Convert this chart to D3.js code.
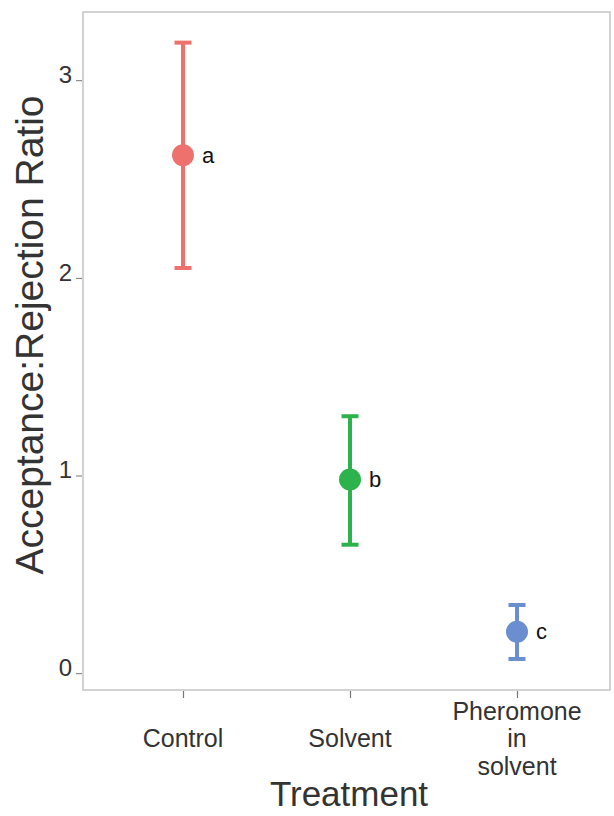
<!DOCTYPE html>
<html>
<head>
<meta charset="utf-8">
<script src="https://cdn.jsdelivr.net/npm/d3@7"></script>
<style>
    body { margin: 0; background: #fff; }
    svg { display: block; font-family: "Liberation Sans", Arial, sans-serif; }
</style>
</head>
<body>
<div id="chart"></div>
<script>
// values
const treatments = ['Control', 'Solvent', 'Pheromone in solvent'];
const tickLabels = [['Control'], ['Solvent'], ['Pheromone', 'in', 'solvent']];
const means = [2.62, 0.98, 0.21];
const upper = [3.19, 1.30, 0.345];
const lower = [2.05, 0.65, 0.072];
const letters = ['a', 'b', 'c'];
const colours = ['#ef716d', '#2db34b', '#6a8ecf'];
const yTicks = [0, 1, 2, 3];

let
    width = 614,
    height = 816,
    panel = { left: 83, right: 610, top: 12, bottom: 690 },

    svg = d3
        .select('#chart')
        .append('svg')
        .attr('width', width)
        .attr('height', height),

    x = d3.scalePoint()
        .domain(treatments)
        .range([183, 517]),

    y = d3.scaleLinear()
        .domain([-0.085, 3.345])
        .range([panel.bottom, panel.top]);

// panel frame
svg.append('rect')
    .attr('x', panel.left)
    .attr('y', panel.top)
    .attr('width', panel.right - panel.left)
    .attr('height', panel.bottom - panel.top)
    .style('fill', 'none')
    .style('stroke', '#c4c4c4')
    .style('stroke-width', 1.5);

// y axis
let yAxis = svg.append('g')
    .attr('transform', 'translate(' + (panel.left - 1) + ',0)')
    .call(d3.axisLeft(y).tickValues(yTicks).tickSize(6).tickPadding(4).tickFormat(d3.format('d')));

yAxis.select('.domain').remove();
yAxis.selectAll('line').style('stroke', '#777').style('stroke-width', 1);
yAxis.selectAll('text')
    .attr('dy', '0.1em')
    .style('font-size', '24px')
    .style('fill', '#333')
    .style('font-family', '"Liberation Sans", Arial, sans-serif');

// x axis
let xAxis = svg.append('g')
    .attr('transform', 'translate(0,' + (panel.bottom + 1) + ')')
    .call(d3.axisBottom(x).tickSize(7).tickFormat(''));

xAxis.select('.domain').remove();
xAxis.selectAll('line').style('stroke', '#777').style('stroke-width', 1.2);

// multi line category labels, centred on the middle line
tickLabels.forEach(function (lines, i) {
    let text = svg.append('text')
        .attr('x', x(treatments[i]))
        .attr('y', 747 - (lines.length - 1) / 2 * 27.5)
        .attr('text-anchor', 'middle')
        .style('font-size', '25px')
        .style('fill', '#333');

    lines.forEach(function (line, j) {
        text.append('tspan')
            .attr('x', x(treatments[i]))
            .attr('dy', j === 0 ? 0 : 27.5)
            .text(line);
    });
});

// error bars and points
let groups = svg.selectAll('g.pt')
    .data(treatments)
    .enter()
    .append('g')
    .attr('class', 'pt');

groups.append('line')
    .attr('x1', d => x(d))
    .attr('x2', d => x(d))
    .attr('y1', (d, i) => y(upper[i]))
    .attr('y2', (d, i) => y(lower[i]))
    .style('stroke', (d, i) => colours[i])
    .style('stroke-width', 4);

[upper, lower].forEach(function (arr) {
    groups.append('line')
        .attr('x1', d => x(d) - 8.5)
        .attr('x2', d => x(d) + 8.5)
        .attr('y1', (d, i) => y(arr[i]))
        .attr('y2', (d, i) => y(arr[i]))
        .style('stroke', (d, i) => colours[i])
        .style('stroke-width', 4);
});

groups.append('circle')
    .attr('cx', d => x(d))
    .attr('cy', (d, i) => y(means[i]))
    .attr('r', 11)
    .style('fill', (d, i) => colours[i]);

groups.append('text')
    .attr('x', d => x(d) + 19)
    .attr('y', (d, i) => y(means[i]))
    .attr('dy', '0.33em')
    .style('font-size', '22px')
    .style('fill', '#111')
    .text((d, i) => letters[i]);

// axis titles
svg.append('text')
    .attr('transform', 'translate(43,335) rotate(-90)')
    .attr('text-anchor', 'middle')
    .style('font-size', '39px')
    .style('fill', '#333')
    .text('Acceptance:Rejection Ratio');

svg.append('text')
    .attr('x', 349)
    .attr('y', 806)
    .attr('text-anchor', 'middle')
    .style('font-size', '35px')
    .style('fill', '#333')
    .text('Treatment');
</script>
</body>
</html>
